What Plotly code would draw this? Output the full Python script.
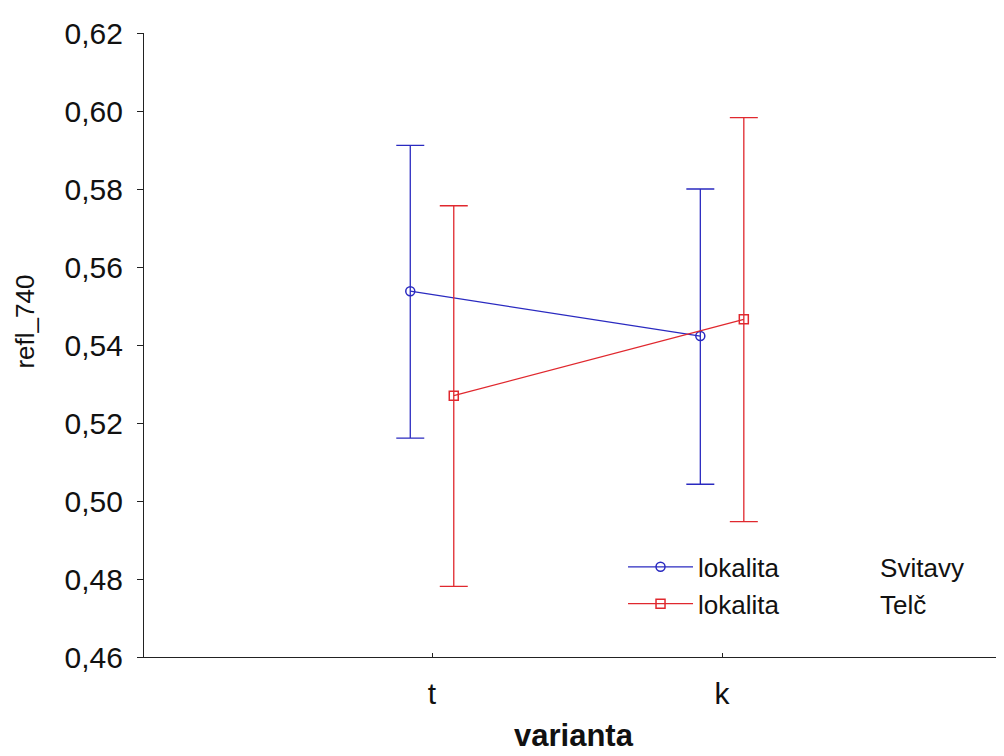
import plotly.graph_objects as go

categories = ["t", "k"]
cat_pos = [0, 1]
offset = 0.075

svitavy_mean = [0.5538, 0.5423]
svitavy_upper = [0.5912, 0.5800]
svitavy_lower = [0.5161, 0.5043]

telc_mean = [0.5270, 0.5466]
telc_upper = [0.5757, 0.5983]
telc_lower = [0.4781, 0.4947]

y_ticks = [0.46, 0.48, 0.50, 0.52, 0.54, 0.56, 0.58, 0.60, 0.62]

blue = "#2a2ac0"
red = "#e0282e"
FONT = "Liberation Sans, Arial, sans-serif"

def trace(name, means, up, lo, shift, color, symbol):
    xs = [p + shift for p in cat_pos]
    return go.Scatter(
        x=xs, y=means, name=name, mode="lines+markers",
        line=dict(color=color, width=1.3),
        marker=dict(symbol=symbol, size=9, color=color, line=dict(color=color, width=1.5)),
        error_y=dict(type="data", symmetric=False,
                     array=[u - m for u, m in zip(up, means)],
                     arrayminus=[m - l for m, l in zip(means, lo)],
                     color=color, thickness=1.3, width=14),
    )

gap = "\u00a0" * 14
fig = go.Figure()
fig.add_trace(trace("lokalita" + gap + "Svitavy",
                    svitavy_mean, svitavy_upper, svitavy_lower, -offset, blue, "circle-open"))
fig.add_trace(trace("lokalita" + gap + "Telč",
                    telc_mean, telc_upper, telc_lower, offset, red, "square-open"))

fig.update_layout(
    width=1004, height=756,
    margin=dict(l=136, r=8, t=22, b=107),
    paper_bgcolor="white", plot_bgcolor="white",
    separators=", ",
    font=dict(family=FONT, size=30, color="#111"),
    legend=dict(x=0.557, y=0.182, xanchor="left", yanchor="top",
                bgcolor="rgba(0,0,0,0)", font=dict(size=26), tracegroupgap=0,
                itemwidth=65),
    showlegend=True,
    annotations=[
        dict(text="refl_740", xref="paper", yref="paper", x=-0.138, y=0.538,
             textangle=-90, showarrow=False, xanchor="center", yanchor="middle",
             font=dict(size=26, family=FONT, color="#111")),
        dict(text="<b>varianta</b>", xref="paper", yref="paper", x=0.5, y=-0.126,
             showarrow=False, xanchor="center", yanchor="middle",
             font=dict(size=31, family=FONT, color="#111")),
    ],
)
fig.update_xaxes(
    range=[-0.993, 1.972], tickmode="array", tickvals=cat_pos, ticktext=categories,
    showline=True, linecolor="#222", linewidth=1.2, ticks="inside", ticklen=4,
    tickcolor="#222", showgrid=False, zeroline=False, ticklabelstandoff=10,
    tickfont=dict(size=30),
)
fig.update_yaxes(
    range=[0.46, 0.62], tickmode="array", tickvals=y_ticks, tickformat=".2f",
    showline=True, linecolor="#222", linewidth=1.2, ticks="outside", ticklen=6,
    tickcolor="#222", showgrid=False, zeroline=False, ticklabelstandoff=8,
    tickfont=dict(size=30),
)

fig.write_html("out.html")
